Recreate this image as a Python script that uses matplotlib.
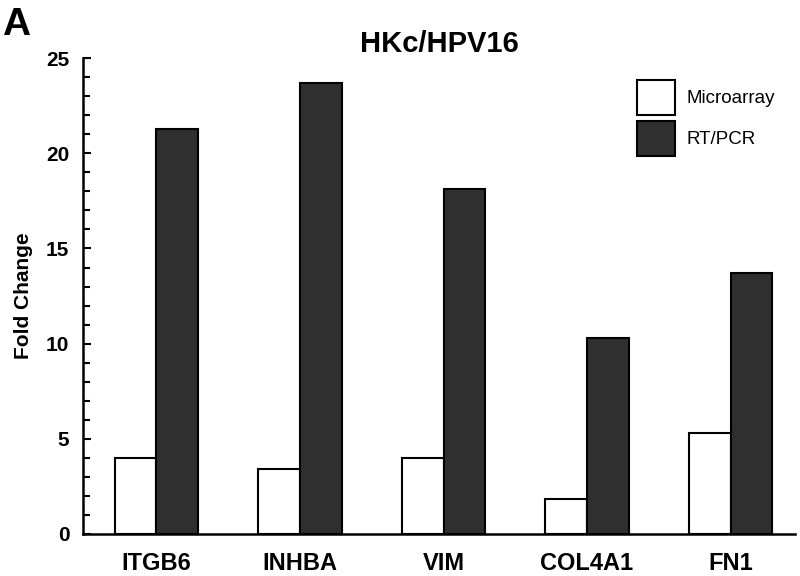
import numpy as np
import matplotlib
matplotlib.use('Agg')
import matplotlib.pyplot as plt
from matplotlib.ticker import MultipleLocator

plt.rcParams['font.family'] = ['Liberation Sans', 'DejaVu Sans']

genes = ['ITGB6', 'INHBA', 'VIM', 'COL4A1', 'FN1']
microarray = [4.0, 3.4, 4.0, 1.85, 5.3]
rt_pcr = [21.3, 23.7, 18.1, 10.3, 13.7]

fig = plt.figure(figsize=(8, 5.76), dpi=100)
ax = fig.add_axes([0.104, 0.073, 0.89, 0.826])

x = np.arange(len(genes))
w = 0.29
ax.bar(x - w/2, microarray, w, color='white', edgecolor='black', linewidth=1.5, label='Microarray')
ax.bar(x + w/2, rt_pcr, w, color='#2f2f2f', edgecolor='black', linewidth=1.5, label='RT/PCR')

ax.set_xlim(-0.51, 4.45)
ax.set_ylim(0, 25)
ax.set_xticks(x)
ax.set_xticklabels(genes, fontsize=17, fontweight='bold')
ax.tick_params(axis='x', length=0, pad=13)
ax.yaxis.set_major_locator(MultipleLocator(5))
ax.yaxis.set_minor_locator(MultipleLocator(1))
ax.tick_params(axis='y', which='major', direction='in', length=6, width=1.5, labelsize=15, pad=10)
ax.tick_params(axis='y', which='minor', direction='in', length=5, width=1.5)
for lab in ax.get_yticklabels():
    lab.set_fontweight('bold')

for s in ['top', 'right']:
    ax.spines[s].set_visible(False)
for s in ['left', 'bottom']:
    ax.spines[s].set_linewidth(1.8)

ax.set_ylabel('Fold Change', fontsize=15, fontweight='bold', labelpad=9)
ax.set_title('HKc/HPV16', fontsize=21, fontweight='bold', pad=3)
fig.text(0.002, 0.988, 'A', fontsize=28, fontweight='bold', va='top', ha='left')

ax.legend(loc='upper left', bbox_to_anchor=(637/800, 1 - 80/576), bbox_transform=fig.transFigure,
          frameon=False, fontsize=13.5, handlelength=2.0, handleheight=2.5,
          labelspacing=0.3, handletextpad=0.65, borderpad=0, borderaxespad=0)

fig.savefig('out.png', dpi=100)
